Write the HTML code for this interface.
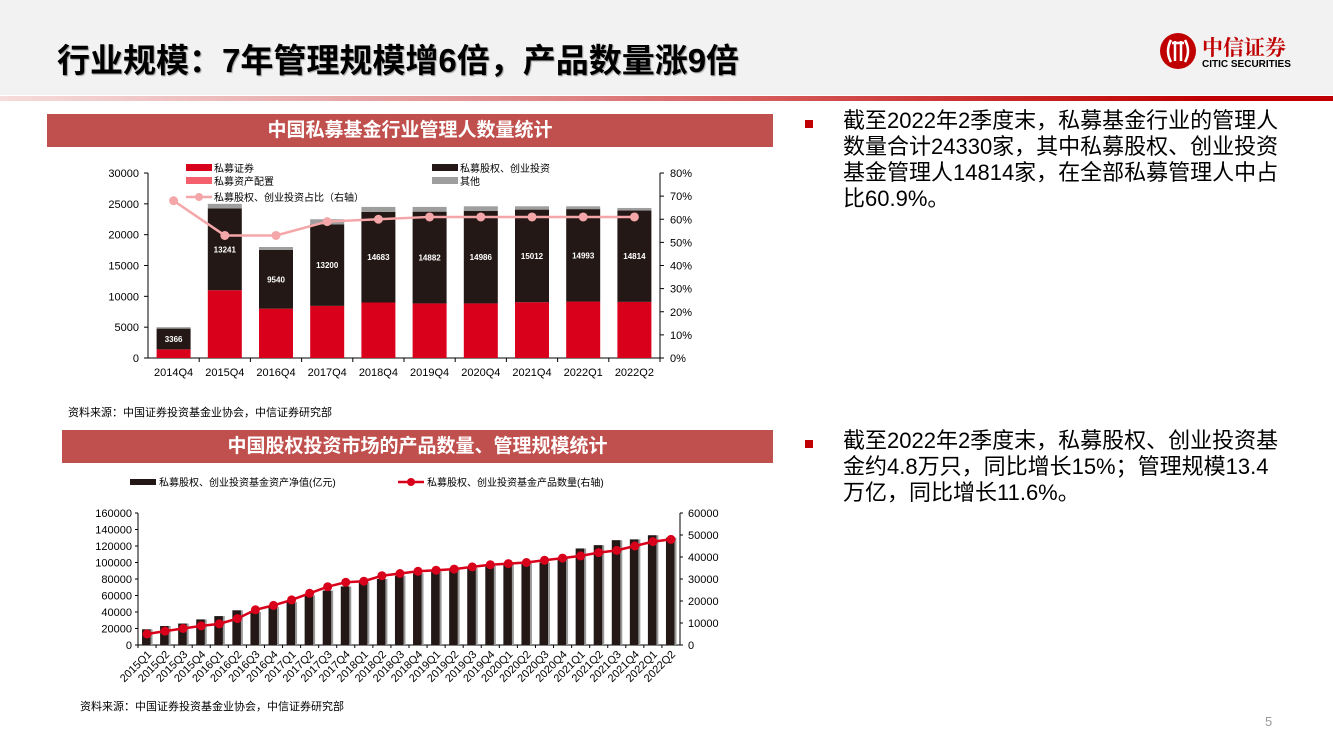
<!DOCTYPE html>
<html><head><meta charset="utf-8">
<style>
body{margin:0;width:1333px;height:750px;position:relative;background:#fff;font-family:"Liberation Sans","Noto Sans CJK SC",sans-serif;overflow:hidden}
.abs{position:absolute}
.tbar{position:absolute;background:#c0504d;color:#fff;font-weight:bold;font-size:19px;text-align:center;line-height:33px;height:33px}
.bul{position:absolute;font-size:22px;line-height:26px;color:#000;width:441px}
.sq{position:absolute;width:8px;height:8px;background:#c00000}
.src{position:absolute;font-size:11px;color:#000}
</style></head><body>
<div class="abs" style="left:0;top:0;width:1333px;height:95px;background:#f2f2f2"></div>
<div class="abs" style="left:0;top:96px;width:1333px;height:5px;background:linear-gradient(90deg,#f6dcdc,#e08a8a 40%,#c00000 90%)"></div>
<div class="abs" style="left:57px;top:34px;font-size:33px;font-weight:bold;color:#000;text-shadow:1px 1px 1px #999">行业规模：7年管理规模增6倍，产品数量涨9倍</div>
<div class="abs" style="left:1158px;top:32px;width:150px;height:40px">
<svg width="150" height="40"><circle cx="20" cy="19" r="18" fill="#c00000"/><g stroke="#fff" stroke-width="2.5" fill="none"><path d="M13 8 Q7 19 13 30"/><path d="M27 8 Q33 19 27 30"/><line x1="17" y1="9" x2="17" y2="29"/><line x1="23" y1="9" x2="23" y2="29"/><line x1="14" y1="11" x2="26" y2="11"/></g>
<text x="44" y="23" font-size="21" font-weight="bold" fill="#c00000" font-family="Noto Serif CJK SC,serif">中信证券</text>
<text x="44" y="35" font-size="10" font-weight="bold" fill="#000" font-family="Liberation Sans,sans-serif">CITIC SECURITIES</text></svg></div>

<div class="tbar" style="left:47px;top:114px;width:726px">中国私募基金行业管理人数量统计</div>
<div class="tbar" style="left:62px;top:430px;width:711px">中国股权投资市场的产品数量、管理规模统计</div>
<div class="src" style="left:68px;top:404px">资料来源：中国证券投资基金业协会，中信证券研究部</div>
<div class="src" style="left:80px;top:698px">资料来源：中国证券投资基金业协会，中信证券研究部</div>

<div class="sq" style="left:805px;top:120px"></div>
<div class="bul" style="left:843px;top:108px">截至2022年2季度末，私募基金行业的管理人数量合计24330家，其中私募股权、创业投资基金管理人14814家，在全部私募管理人中占比60.9%。</div>
<div class="sq" style="left:805px;top:440px"></div>
<div class="bul" style="left:843px;top:428px">截至2022年2季度末，私募股权、创业投资基金约4.8万只，同比增长15%；管理规模13.4万亿，同比增长11.6%。</div>
<div class="abs" style="left:1265px;top:714px;font-size:13px;color:#999">5</div>

<svg id="c1" class="abs" style="left:0;top:0" width="800" height="400"></svg>
<svg id="c2" class="abs" style="left:0;top:0" width="800" height="720"></svg>

<script>
const c1Cats=["2014Q4","2015Q4","2016Q4","2017Q4","2018Q4","2019Q4","2020Q4","2021Q4","2022Q1","2022Q2"];
const c1Sec=[1400,11000,8000,8450,9000,8850,8850,9050,9150,9100];
const c1Asset=[0,0,0,0,0,0,0,0,0,0];
const c1Equity=[3366,13241,9540,13200,14683,14882,14986,15012,14993,14814];
const c1Other=[234,759,460,850,817,768,764,538,457,416];
const c1Ratio=[68,53,53,59,60,61,61,61,61,61];
const c1LeftTicks=[0,5000,10000,15000,20000,25000,30000];
const c1RightTicks=[0,10,20,30,40,50,60,70,80];

const c2Cats=["2015Q1","2015Q2","2015Q3","2015Q4","2016Q1","2016Q2","2016Q3","2016Q4","2017Q1","2017Q2","2017Q3","2017Q4","2018Q1","2018Q2","2018Q3","2018Q4","2019Q1","2019Q2","2019Q3","2019Q4","2020Q1","2020Q2","2020Q3","2020Q4","2021Q1","2021Q2","2021Q3","2021Q4","2022Q1","2022Q2"];
const c2Nav=[19000,23000,26000,31000,35000,42000,40000,46000,52000,60000,66000,71000,76000,80000,84000,87000,89000,91000,93000,96000,98000,99000,100000,106000,117000,121000,127000,128000,133000,130000];
const c2Count=[5000,6300,7500,8700,9600,12000,16000,18000,20500,23500,26500,28500,29000,31500,32500,33500,34000,34500,35500,36500,37000,37500,38500,39500,40500,42000,43000,45000,47000,48000];
const c2LeftTicks=[0,20000,40000,60000,80000,100000,120000,140000,160000];
const c2RightTicks=[0,10000,20000,30000,40000,50000,60000];

const NS="http://www.w3.org/2000/svg";
function mk(svg,tag,attrs,txt){const e=document.createElementNS(NS,tag);for(const k in attrs)e.setAttribute(k,attrs[k]);if(txt!==undefined)e.textContent=txt;svg.appendChild(e);return e;}
const F='Liberation Sans, Noto Sans CJK SC, sans-serif';

// chart 1
(function(){
const s=document.getElementById('c1');
const x0=148,x1=660,y0=358,yT=173;
const bw=(x1-x0)/c1Cats.length;
const yL=v=>y0-(v/30000)*(y0-yT);
const yR=v=>y0-(v/80)*(y0-yT);
const xc=i=>x0+bw*(i+0.5);
let e;
e=mk(s,'line',{x1:x0,y1:yT,x2:x0,y2:y0,stroke:'#000'});
e=mk(s,'line',{x1:x1,y1:yT,x2:x1,y2:y0,stroke:'#000'});
e=mk(s,'line',{x1:x0,y1:y0,x2:x1,y2:y0,stroke:'#000'});
c1LeftTicks.forEach(t=>{e=mk(s,'text',{x:x0-9,y:yL(t)+4,'font-size':11,'text-anchor':'end','font-family':F},t);mk(s,'line',{x1:x0-4,y1:yL(t),x2:x0,y2:yL(t),stroke:'#000'});});
c1RightTicks.forEach(t=>{e=mk(s,'text',{x:x1+10,y:yR(t)+4,'font-size':11,'font-family':F},t+'%');mk(s,'line',{x1:x1,y1:yR(t),x2:x1+4,y2:yR(t),stroke:'#000'});});
c1Cats.forEach((c,i)=>{
 const bx=xc(i)-17;let base=0;
 const parts=[[c1Sec[i],'#d9001b','c1-bar-securities'],[c1Asset[i],'#f4606c','c1-bar-asset'],[c1Equity[i],'#231815','c1-bar-equity'],[c1Other[i],'#9e9e9e','c1-bar-other']];
 parts.forEach(p=>{const r=mk(s,'rect',{x:bx,y:yL(base+p[0]),width:34,height:yL(base)-yL(base+p[0]),fill:p[1]});base+=p[0];});
 const ly=yL(c1Sec[i]+c1Equity[i]/2)+3;
 e=mk(s,'text',{x:xc(i),y:ly,'font-size':8,'font-weight':'bold',fill:'#fff','text-anchor':'middle','font-family':F},c1Equity[i]);
 mk(s,'line',{x1:x0+bw*(i+1),y1:y0,x2:x0+bw*(i+1),y2:y0+4,stroke:'#000'});
 e=mk(s,'text',{x:xc(i),y:y0+18,'font-size':11,'text-anchor':'middle','font-family':F},c);
});
const pts=c1Ratio.map((v,i)=>xc(i)+','+yR(v)).join(' ');
e=mk(s,'polyline',{points:pts,fill:'none',stroke:'#f4a6a8','stroke-width':2.5});
c1Ratio.forEach((v,i)=>{e=mk(s,'circle',{cx:xc(i),cy:yR(v),r:4.5,fill:'#f4a6a8'});});
const L=[[186,168,'#d9001b','私募证券'],[186,181,'#f4606c','私募资产配置'],[432,168,'#231815','私募股权、创业投资'],[432,181,'#9e9e9e','其他']];
L.forEach(l=>{e=mk(s,'rect',{x:l[0],y:l[1]-4,width:26,height:7,fill:l[2]});e=mk(s,'text',{x:l[0]+28,y:l[1]+4,'font-size':10,'font-family':F},l[3]);});
mk(s,'line',{x1:186,y1:197,x2:212,y2:197,stroke:'#f4a6a8','stroke-width':2.5});mk(s,'circle',{cx:199,cy:197,r:4,fill:'#f4a6a8'});
e=mk(s,'text',{x:214,y:201,'font-size':10,'font-family':F},'私募股权、创业投资占比（右轴）');
})();

// chart 2
(function(){
const s=document.getElementById('c2');
const x0=138,x1=680,y0=645,yT=513;
const bw=(x1-x0)/c2Cats.length;
const yL=v=>y0-(v/160000)*(y0-yT);
const yR=v=>y0-(v/60000)*(y0-yT);
const xc=i=>x0+bw*(i+0.5);
let e;
e=mk(s,'line',{x1:x0,y1:yT,x2:x0,y2:y0,stroke:'#000'});
e=mk(s,'line',{x1:x1,y1:yT,x2:x1,y2:y0,stroke:'#000'});
e=mk(s,'line',{x1:x0,y1:y0,x2:x1,y2:y0,stroke:'#000'});
c2LeftTicks.forEach(t=>{e=mk(s,'text',{x:x0-6,y:yL(t)+4,'font-size':11,'text-anchor':'end','font-family':F},t);mk(s,'line',{x1:x0-3,y1:yL(t),x2:x0,y2:yL(t),stroke:'#000'});});
c2RightTicks.forEach(t=>{e=mk(s,'text',{x:x1+8,y:yR(t)+4,'font-size':11,'font-family':F},t);mk(s,'line',{x1:x1,y1:yR(t),x2:x1+3,y2:yR(t),stroke:'#000'});});
c2Cats.forEach((c,i)=>{
 e=mk(s,'rect',{x:xc(i)-4.5,y:yL(c2Nav[i]),width:10,height:y0-yL(c2Nav[i]),fill:'#999'});
 e=mk(s,'rect',{x:xc(i)-5,y:yL(c2Nav[i]),width:8.5,height:y0-yL(c2Nav[i]),fill:'#231815'});
 mk(s,'line',{x1:x0+bw*i,y1:y0,x2:x0+bw*i,y2:y0+3,stroke:'#000'});
 e=mk(s,'text',{x:xc(i)+5,y:y0+10,'font-size':11,'text-anchor':'end','font-family':F,transform:`rotate(-45 ${xc(i)+5} ${y0+10})`},c);
});
const pts=c2Count.map((v,i)=>xc(i)+','+yR(v)).join(' ');
e=mk(s,'polyline',{points:pts,fill:'none',stroke:'#d9001b','stroke-width':2.5});
c2Count.forEach((v,i)=>{e=mk(s,'circle',{cx:xc(i),cy:yR(v),r:4.5,fill:'#d9001b'});});
e=mk(s,'rect',{x:130,y:479,width:26,height:6,fill:'#231815'});
e=mk(s,'text',{x:159,y:486,'font-size':10,'font-family':F},'私募股权、创业投资基金资产净值(亿元)');
mk(s,'line',{x1:398,y1:482,x2:424,y2:482,stroke:'#d9001b','stroke-width':2.5});mk(s,'circle',{cx:411,cy:482,r:4,fill:'#d9001b'});
e=mk(s,'text',{x:427,y:486,'font-size':10,'font-family':F},'私募股权、创业投资基金产品数量(右轴)');
})();
</script>
</body></html>
